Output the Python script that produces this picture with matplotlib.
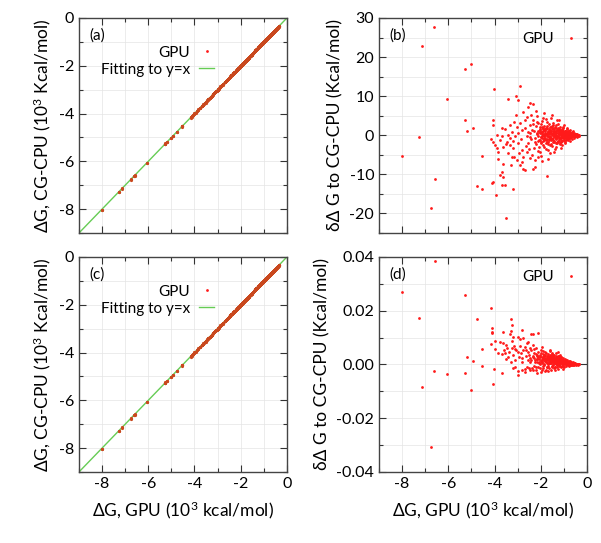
import numpy as np
import matplotlib.pyplot as plt
from matplotlib.ticker import MultipleLocator, FormatStrFormatter

plt.rcParams['font.family'] = ['Lato', 'DejaVu Sans']
plt.rcParams['axes.unicode_minus'] = False
plt.rcParams['mathtext.fontset'] = 'custom'
plt.rcParams['mathtext.rm'] = 'Lato'

# dG on GPU (10^3 kcal/mol) and dG difference to CG-CPU (kcal/mol), panel (b)
dg_b = [-8.02, -7.28, -7.15, -6.63, -6.75, -6.59, -6.07, -5.26, -5.03, -5.26, -5.18, -4.94,
        -4.53, -4.76, -4.53, -4.01, -2.88, -3.07, -2.97, -3.43, -2.46, -2.32, -2.56, -2.75,
        -3.07, -4.05, -4.05, -3.69, -4.17, -4.08, -3.88, -3.83, -3.62, -3.29, -3.14, -3.66,
        -3.65, -3.76, -2.78, -2.68, -2.35, -2.25, -1.74, -4.12, -4.05, -3.69, -3.55, -3.19,
        -3.95, -3.52,
        -3.55, -3.40, -3.26, -3.11, -3.04, -2.90, -2.82, -2.68, -2.61, -2.54, -2.46, -2.39,
        -2.32, -2.25, -2.17, -2.10, -3.47, -3.33, -3.18, -2.97, -2.82, -2.75, -2.61, -2.46,
        -2.39, -2.25, -2.10, -2.03, -1.96, -3.04, -2.90, -3.26, -3.40, -3.62, -3.76, -3.91,
        -3.69, -3.33, -3.98, -3.83,
        -3.50, -3.35, -3.20, -3.00, -2.95, -2.85, -2.70, -2.65, -2.55, -2.50, -2.45, -2.40,
        -2.30, -3.15, -2.80, -2.60, -2.20, -2.00, -1.85, -1.70]
ddg_b = [-5.3, -0.5, 22.9, 27.6, -18.7, -11.3, 9.3, 16.9, 18.2, 3.8, 1.1, 1.8,
         -5.3, -13.0, -13.7, 11.8, 12.6, 10.0, 9.0, 9.2, 8.3, 8.0, 7.3, 6.0,
         5.2, 3.9, 2.6, 1.9, -0.9, -1.6, -3.3, -6.1, -7.3, -7.7, -5.6, -9.3,
         -10.6, -10.2, -8.7, -8.9, -8.7, -8.2, -10.4, -12.1, -11.9, -12.7, -12.7, -13.8,
         -15.3, -21.1,
         1.5, 0.1, 0.9, -0.3, 2.2, 3.1, 1.4, 3.9, -0.3, -2.1, 2.6, 1.4,
         3.9, -1.6, 4.8, 3.1, -1.6, -2.5, -3.3, -2.1, -3.8, -5.5, -4.2, -5.9,
         -5.0, -6.3, -5.5, -4.2, -6.7, -6.3, -7.6, -5.5, -4.6, -3.1, -1.2, 0.1,
         -0.2, -0.8, -2.5, -4.2,
         -2.3, 2.6, -1.5, 0.6, -4.6, -1.0, 1.8, -2.7, 0.8, -3.5, -0.4, 5.1,
         -3.2, 3.5, -6.8, 4.6, 6.2, -5.3, 5.8, -6.0]

# dense cluster of panel (b)
core_b_x = [-2.28, -2.25, -2.22, -2.20, -2.18, -2.15, -2.12, -2.10, -2.08, -2.05, -2.03, -2.00,
            -1.98, -1.97, -1.95, -1.93, -1.92, -1.90, -1.88, -1.87, -1.85, -1.83, -1.82, -1.80,
            -1.78, -1.77, -1.75, -1.74, -1.72, -1.70, -1.69, -1.67, -1.66, -1.65, -1.63, -1.62,
            -1.60, -1.60, -1.58, -1.57, -1.55, -1.54, -1.52, -1.51, -1.50, -1.48, -1.47, -1.45,
            -1.44, -1.42, -1.41, -1.40, -1.38, -1.37, -1.35, -1.34, -1.32, -1.31, -1.30, -1.28,
            -1.27, -1.25, -1.24, -1.22, -1.21, -1.20, -1.18, -1.17, -1.15, -1.14, -1.12, -1.11,
            -1.10, -1.08, -1.07, -1.05, -1.04, -1.02, -1.01, -1.00, -0.98, -0.97, -0.95, -0.94,
            -0.92, -0.91, -0.90, -0.88, -0.87, -0.85, -0.84, -0.82, -0.81, -0.79, -0.78, -0.76,
            -0.75, -0.73, -0.72, -0.70, -0.69, -0.67, -0.66, -0.64, -0.63, -0.61, -0.60, -0.58,
            -0.57, -0.55, -0.54, -0.52, -0.51, -0.49, -0.48, -0.46, -0.45, -0.43, -0.42, -0.40,
            -0.39, -0.37, -0.35, -0.33,
            -2.05, -2.02, -1.99, -1.96, -1.94, -1.91, -1.89, -1.86, -1.84, -1.81, -1.79, -1.76,
            -1.73, -1.71, -1.68, -1.64, -1.61, -1.59, -1.56, -1.53, -1.49, -1.46, -1.43, -1.39,
            -1.36, -1.33, -1.29, -1.26, -1.23, -1.19, -1.16, -1.13, -1.09, -1.06, -1.03, -0.99,
            -0.96, -0.93, -0.89, -0.86, -0.83, -0.80, -0.77, -0.74, -0.71, -0.68, -0.65, -0.62,
            -0.59, -0.56, -0.53, -0.50, -0.47, -0.44, -0.41, -0.38,
            -1.95, -1.85, -1.72, -1.58, -1.45, -1.35, -1.25, -1.15, -1.05, -0.95, -0.85, -1.55,
            -1.68, -1.42, -1.30, -1.90, -2.10, -1.12, -2.35, -2.40, -2.45,
            -2.15, -2.08, -2.01, -1.97, -1.93, -1.89, -1.84, -1.80, -1.77, -1.73, -1.70, -1.66,
            -1.63, -1.59, -1.56, -1.53, -1.50, -1.47, -1.44, -1.41, -1.38, -1.35, -1.32, -1.29,
            -1.26, -1.23, -1.20, -1.17, -1.14, -1.11, -1.08, -1.05, -1.02, -0.99, -0.96, -0.93,
            -0.90, -0.87, -0.84, -0.81, -0.78, -0.75, -0.72, -0.69, -0.66, -0.63, -0.60, -0.57,
            -0.54, -0.51,
            -2.12, -2.04, -1.98, -1.91, -1.86, -1.82, -1.78, -1.74, -1.69, -1.64, -1.60, -1.57,
            -1.52, -1.49, -1.46, -1.43, -1.39, -1.36, -1.33, -1.30, -1.27, -1.24, -1.21, -1.18,
            -1.15, -1.12, -1.09, -1.06, -1.03, -1.00, -0.97, -0.94, -0.91, -0.88, -0.85, -0.82,
            -0.79, -0.76, -0.73, -0.70]
core_b_y = [1.2, -0.8, 2.4, -2.2, 0.3, 3.5, -1.5, 1.0, -3.0, 0.5, 2.0, -0.4,
            -1.9, 3.0, 0.8, -0.2, 1.6, -2.6, 0.4, 2.4, -1.1, 0.0, 1.1, -0.6,
            4.2, -3.5, 0.6, -1.6, 1.9, -0.3, 0.9, -2.2, 2.8, 0.2, -0.9, 1.4,
            -4.6, 0.5, -0.1, 2.1, -1.3, 0.7, 5.3, -2.7, 0.0, 1.2, -0.6, 3.2,
            -1.8, 0.3, 1.7, -0.2, -3.4, 0.9, 2.5, -1.0, 0.1, 1.4, -0.5, -2.1,
            0.6, 1.9, -0.3, 3.8, -1.4, 0.2, 1.0, -0.7, 2.2, -1.7, 0.4, -0.1,
            1.3, -2.6, 0.7, -0.4, 1.8, 0.0, -1.1, 0.9, 2.6, -0.6, 0.3, -1.9,
            1.2, -0.2, 0.6, -0.9, 1.6, 0.1, -1.3, 0.8, -0.4, 1.1, 0.2, -0.7,
            0.5, -1.5, 1.4, -0.1, 0.7, -0.5, 0.9, 0.0, -0.9, 0.4, 1.0, -0.3,
            0.3, -0.6, 0.6, 0.1, -0.3, 0.4, -0.1, 0.2, -0.4, 0.3, 0.0, -0.2,
            0.1, 0.0, -0.1, 0.05,
            1.7, -1.2, 0.9, -0.6, 2.2, 0.1, -1.4, 1.3, -0.3, 0.7, -2.0, 1.8,
            0.2, -0.9, 1.1, -0.4, 2.0, 0.8, -0.7, 1.5, -1.2, 0.5, -0.1, 1.0,
            -0.8, 0.6, 1.3, -0.5, 0.3, -1.0, 0.9, 0.2, -0.5, 1.0, -0.8, 0.4,
            -0.2, 0.8, 0.0, -0.6, 0.5, -0.2, 0.6, 0.1, -0.4, 0.3, -0.2, 0.5,
            0.1, -0.2, 0.3, -0.1, 0.1, -0.1, 0.1, 0.0,
            3.6, -3.1, 3.3, -2.4, 2.7, -2.9, 2.9, -2.2, 2.1, -1.6, 1.9, 4.4,
            -3.8, -4.2, 4.0, 4.5, -4.0, -3.2, 2.8, -1.0, 0.6,
            0.6, -1.1, 1.4, -0.5, 0.2, 1.0, -0.9, 0.4, 1.5, -0.2, 0.6, -1.2,
            0.9, -0.4, 1.2, 0.3, -0.9, 0.7, -0.3, 1.1, 0.0, -0.6, 0.8, -0.2,
            0.5, 1.1, -0.4, 0.3, -0.7, 0.6, 0.1, -0.3, 0.7, -0.5, 0.2, 0.5,
            -0.3, 0.3, -0.1, 0.4, -0.4, 0.2, 0.5, -0.2, 0.1, 0.3, -0.3, 0.2,
            0.0, 0.1,
            -0.3, 0.9, -1.6, 1.9, -0.7, 1.6, -1.3, 2.3, -1.8, 1.7, -0.6, -2.3,
            2.3, 1.8, -1.6, -1.4, 2.0, -2.0, 1.9, -1.6, 1.4, -1.5, 1.6, -1.9,
            1.3, -1.2, 1.7, -1.5, 1.2, -1.3, 1.0, 1.2, -1.1, 0.9, -0.8, 1.0,
            -0.7, 1.0, -0.8, 0.7]

# panel (d)
dg_d = [-6.59, -8.02, -5.26, -7.28, -4.76, -4.53, -5.18, -4.94, -4.53, -6.63, -6.07, -5.26,
        -7.15, -5.03, -6.75,
        -4.15, -3.29, -3.26, -4.09, -4.09, -3.65, -2.82, -2.10, -2.32, -2.42, -3.33, -3.18,
        -2.97, -2.75, -4.00, -3.76, -3.62, -3.52, -3.98, -4.15, -3.26, -3.11, -3.83, -3.69,
        -3.55, -3.40, -4.01, -3.69, -3.00, -4.05, -2.82, -2.68, -3.11, -2.46, -1.96, -4.12,
        -3.30,
        -3.45, -3.38, -3.30, -3.20, -3.15, -3.10, -3.05, -3.00, -2.95, -2.90, -2.85, -2.80,
        -2.75, -2.70, -2.65, -2.60, -2.55, -2.50, -2.45, -3.25, -2.90, -3.60, -3.50, -2.70,
        -2.55, -2.35]
ddg_d = [0.0384, 0.0270, 0.0257, 0.0174, 0.0168, 0.0057, 0.0028, 0.0013, -0.0006, -0.0024,
         -0.0035, -0.0033, -0.0083, -0.0094, -0.0306,
         0.0211, 0.0169, 0.0147, 0.0134, 0.0116, 0.0122, 0.0128, 0.0116, 0.0112, 0.0112,
         0.0112, 0.0104, 0.0104, 0.0097, 0.0087, 0.0085, 0.0079, 0.0073, 0.0057, 0.0076,
         0.0060, 0.0059, 0.0042, 0.0039, 0.0044, 0.0029, -0.0018, -0.0033, -0.0039, -0.0074,
         -0.0020, -0.0018, -0.0008, -0.0020, -0.0020, 0.0120, 0.0125,
         0.0062, 0.0048, 0.0008, 0.0035, 0.0068, 0.0015, 0.0052, -0.0025, 0.0028, 0.0070,
         0.0041, 0.0010, 0.0055, -0.0028, 0.0030, 0.0078, 0.0045, -0.0012, 0.0060, 0.0088,
         0.0095, 0.0055, 0.0020, 0.0065, 0.0082, 0.0072]

# dense cluster of panel (d)
core_d_x = [-2.50, -2.45, -2.40, -2.38, -2.35, -2.30, -2.28, -2.25, -2.22, -2.20, -2.18, -2.15,
            -2.12, -2.10, -2.08, -2.05, -2.03, -2.00, -1.98, -1.97, -1.95, -1.93, -1.92, -1.90,
            -1.88, -1.87, -1.85, -1.83, -1.82, -1.80, -1.78, -1.77, -1.75, -1.74, -1.72, -1.70,
            -1.69, -1.67, -1.66, -1.65, -1.63, -1.62, -1.60, -1.58, -1.57, -1.55, -1.54, -1.52,
            -1.51, -1.50, -1.48, -1.47, -1.45, -1.44, -1.42, -1.41, -1.40, -1.38, -1.37, -1.35,
            -1.34, -1.32, -1.31, -1.30, -1.28, -1.27, -1.25, -1.24, -1.22, -1.21, -1.20, -1.18,
            -1.17, -1.15, -1.14, -1.12, -1.11, -1.10, -1.08, -1.07, -1.05, -1.04, -1.02, -1.01,
            -1.00, -0.98, -0.97, -0.95, -0.94, -0.92, -0.91, -0.90, -0.88, -0.87, -0.85, -0.84,
            -0.82, -0.81, -0.79, -0.78, -0.76, -0.75, -0.73, -0.72, -0.70, -0.69, -0.67, -0.66,
            -0.64, -0.63, -0.61, -0.60, -0.58, -0.57, -0.55, -0.54, -0.52, -0.51, -0.49, -0.48,
            -0.46, -0.45, -0.43, -0.42, -0.40, -0.38, -0.36, -0.34,
            -2.40, -2.32, -2.26, -2.20, -2.14, -2.07, -2.01, -1.96, -1.91, -1.86, -1.81, -1.76,
            -1.71, -1.68, -1.64, -1.59, -1.56, -1.53, -1.49, -1.46, -1.43, -1.39, -1.36, -1.33,
            -1.29, -1.26, -1.23, -1.19, -1.16, -1.13, -1.09, -1.06, -1.03, -0.99, -0.96, -0.93,
            -0.89, -0.86, -0.83, -0.80, -0.77, -0.74, -0.71, -0.68, -0.65, -0.62, -0.59, -0.56,
            -0.53, -0.50, -0.47, -0.44, -0.41, -0.37,
            -2.30, -2.15, -1.95, -1.80, -1.60, -1.40, -1.25, -1.05, -2.45, -2.55, -2.60, -2.80,
            -3.00, -3.20, -2.65, -2.35, -1.90, -1.70, -1.50, -1.15,
            -2.15, -2.08, -2.01, -1.97, -1.93, -1.89, -1.84, -1.80, -1.77, -1.73, -1.70, -1.66,
            -1.63, -1.59, -1.56, -1.53, -1.50, -1.47, -1.44, -1.41, -1.38, -1.35, -1.32, -1.29,
            -1.26, -1.23, -1.20, -1.17, -1.14, -1.11, -1.08, -1.05, -1.02, -0.99, -0.96, -0.93,
            -0.90, -0.87, -0.84, -0.81, -0.78, -0.75, -0.72, -0.69, -0.66, -0.63, -0.60, -0.57,
            -0.54, -0.51,
            -2.30, -2.22, -2.17, -2.10, -2.04, -1.98, -1.91, -1.86, -1.82, -1.78, -1.74, -1.69,
            -1.64, -1.60, -1.57, -1.52, -1.49, -1.46, -1.43, -1.39, -1.36, -1.33, -1.30, -1.27,
            -1.24, -1.21, -1.18, -1.15, -1.12, -1.09]
core_d_y = [0.0035, 0.0008, 0.0052, -0.0012, 0.0026, 0.0041, -0.0004, 0.0018, 0.0061, -0.0022,
            0.0030, 0.0009, 0.0047, -0.0010, 0.0021, 0.0036, 0.0002, 0.0014, -0.0027, 0.0055,
            0.0028, 0.0006, 0.0040, -0.0015, 0.0019, 0.0033, -0.0003, 0.0012, 0.0046, 0.0024,
            -0.0019, 0.0008, 0.0031, 0.0015, -0.0008, 0.0038, 0.0003, 0.0022, -0.0013, 0.0011,
            0.0027, 0.0049, 0.0005, 0.0017, -0.0021, 0.0032, 0.0009, 0.0020, -0.0006, 0.0013,
            0.0036, 0.0002, 0.0024, -0.0014, 0.0010, 0.0029, 0.0004, 0.0016, -0.0009, 0.0021,
            0.0041, 0.0007, -0.0003, 0.0014, 0.0026, -0.0016, 0.0009, 0.0019, 0.0001, 0.0032,
            0.0012, -0.0007, 0.0022, 0.0006, 0.0015, -0.0011, 0.0027, 0.0009, 0.0003, 0.0018,
            -0.0005, 0.0012, 0.0023, 0.0004, 0.0010, -0.0009, 0.0016, 0.0007, 0.0020, 0.0002,
            0.0011, -0.0004, 0.0014, 0.0006, 0.0017, -0.0002, 0.0009, 0.0003, 0.0012, -0.0006,
            0.0007, 0.0014, 0.0001, 0.0008, -0.0003, 0.0010, 0.0004, -0.0001, 0.0007, 0.0002,
            0.0009, -0.0002, 0.0005, 0.0001, 0.0006, -0.0002, 0.0003, 0.0005, 0.0000, 0.0003,
            -0.0001, 0.0002, 0.0003, 0.0000, 0.0001, -0.0001, 0.0001, 0.0000,
            0.0015, 0.0030, 0.0008, 0.0040, 0.0022, 0.0004, 0.0031, 0.0013, 0.0025, 0.0002,
            0.0036, 0.0018, 0.0029, -0.0004, 0.0015, 0.0026, 0.0006, 0.0039, 0.0019, -0.0003,
            0.0024, 0.0012, 0.0033, 0.0000, 0.0018, 0.0008, 0.0025, -0.0002, 0.0013, 0.0021,
            0.0005, 0.0016, -0.0001, 0.0013, 0.0003, 0.0011, 0.0018, 0.0001, 0.0010, 0.0005,
            0.0011, -0.0001, 0.0006, 0.0009, 0.0002, 0.0006, 0.0003, 0.0004, 0.0000, 0.0002,
            0.0001, 0.0002, 0.0000, 0.0001,
            0.0058, -0.0030, 0.0065, -0.0026, 0.0052, -0.0022, 0.0045, -0.0016, 0.0025, 0.0015,
            -0.0008, 0.0025, 0.0045, -0.0012, 0.0052, -0.0020, 0.0050, -0.0024, 0.0044, 0.0036,
            0.0020, 0.0010, 0.0027, 0.0017, 0.0008, 0.0022, 0.0030, 0.0012, 0.0019, 0.0004,
            0.0025, 0.0014, 0.0020, 0.0007, 0.0023, 0.0012, 0.0027, 0.0009, 0.0017, 0.0022,
            0.0006, 0.0014, 0.0019, 0.0004, 0.0016, 0.0011, 0.0020, 0.0008, 0.0010, 0.0016,
            0.0006, 0.0011, 0.0015, 0.0004, 0.0009, 0.0013, 0.0007, 0.0010, 0.0004, 0.0008,
            0.0003, 0.0009, 0.0005, 0.0003, 0.0007, 0.0004, 0.0005, 0.0002, 0.0004, 0.0002,
            0.0024, -0.0008, 0.0034, 0.0028, -0.0012, 0.0044, -0.0006, 0.0035, 0.0016, 0.0041,
            -0.0010, 0.0031, 0.0006, 0.0036, 0.0021, -0.0011, 0.0030, 0.0016, 0.0034, -0.0008,
            0.0025, 0.0013, -0.0010, 0.0030, 0.0004, -0.0007, 0.0026, 0.0011, 0.0028, -0.0006]

fit_x = [-9.0, 0.0]
red = '#ff1a1a'
brown = '#c9481e'
green = '#66cc55'
ms = 2.0


def style(ax, ymin, ymax, ymaj, ymin_step, fmt):
    ax.set_xlim(-9, 0)
    ax.set_ylim(ymin, ymax)
    ax.xaxis.set_major_locator(MultipleLocator(2))
    ax.xaxis.set_minor_locator(MultipleLocator(1))
    ax.yaxis.set_major_locator(MultipleLocator(ymaj))
    ax.yaxis.set_minor_locator(MultipleLocator(ymin_step))
    ax.yaxis.set_major_formatter(FormatStrFormatter(fmt))
    ax.tick_params(which='both', direction='in', top=True, right=True,
                   colors='#333333', labelcolor='black', labelsize=11.5)
    ax.tick_params(which='major', length=5, width=0.8)
    ax.tick_params(which='minor', length=3, width=0.8)
    ax.grid(which='both', color='#e4e4e4', linewidth=0.5)
    ax.set_axisbelow(True)
    for s in ax.spines.values():
        s.set_color('#444444')
        s.set_linewidth(1.0)


fig = plt.figure(figsize=(6.01, 5.43), dpi=100)
w, h = 0.346, 0.396
ax_a = fig.add_axes([0.1314, 0.5709, w, h])
ax_b = fig.add_axes([0.6306, 0.5709, w, h])
ax_c = fig.add_axes([0.1314, 0.1308, w, h])
ax_d = fig.add_axes([0.6306, 0.1308, w, h])

gpu_b = np.array(dg_b + core_b_x)
diff_b = np.array(ddg_b + core_b_y)
gpu_d = np.array(dg_d + core_d_x)
diff_d = np.array(ddg_d + core_d_y)

for ax, lab in [(ax_a, '(a)'), (ax_c, '(c)')]:
    ax.plot(fit_x, fit_x, color=green, lw=1.0, label='Fitting to y=x', zorder=2)
    ax.plot(gpu_b, gpu_b + diff_b / 1000.0, 'o', ms=ms + 0.3, color=brown,
            mec='none', zorder=3)
    ax.plot(gpu_d, gpu_d + diff_d / 1000.0, 'o', ms=ms + 0.3, color=brown,
            mec='none', zorder=3)
    gpu_key, = ax.plot([], [], 'o', ms=ms, color=red, mec='none', label='GPU')
    style(ax, -9, 0, 2, 1, '%d')
    ax.set_ylabel('ΔG, CG-CPU ($\\mathregular{10^3}$ Kcal/mol)', fontsize=12.5, labelpad=4)
    ax.text(0.05, 0.92, lab, transform=ax.transAxes, fontsize=11, va='center')
    handles, labels = ax.get_legend_handles_labels()
    ax.legend(handles[::-1], labels[::-1], loc='upper right', bbox_to_anchor=(0.68, 0.9),
              frameon=False, markerfirst=False, handlelength=1.0, fontsize=11,
              labelspacing=0.2, handletextpad=0.6, borderaxespad=0)

ax_b.plot(gpu_b, diff_b, 'o', ms=ms, color=red, mec='none', label='GPU')
style(ax_b, -25, 30, 10, 5, '%d')
ax_b.set_ylabel('δΔ G to CG-CPU (Kcal/mol)', fontsize=12.5, labelpad=4)
ax_b.text(0.05, 0.92, '(b)', transform=ax_b.transAxes, fontsize=11, va='center')
ax_b.legend(loc='center right', bbox_to_anchor=(0.96, 0.9), frameon=False,
            markerfirst=False, handlelength=1.0, fontsize=11, handletextpad=0.6,
            borderaxespad=0, borderpad=0)

ax_d.plot(gpu_d, diff_d, 'o', ms=ms, color=red, mec='none', label='GPU')
style(ax_d, -0.04, 0.04, 0.02, 0.01, '%.2f')
ax_d.set_ylabel('δΔ G to CG-CPU (Kcal/mol)', fontsize=12.5, labelpad=4)
ax_d.text(0.05, 0.92, '(d)', transform=ax_d.transAxes, fontsize=11, va='center')
ax_d.legend(loc='center right', bbox_to_anchor=(0.96, 0.905), frameon=False,
            markerfirst=False, handlelength=1.0, fontsize=11, handletextpad=0.6,
            borderaxespad=0, borderpad=0)

for ax in (ax_a, ax_b):
    ax.tick_params(labelbottom=False)
for ax in (ax_c, ax_d):
    ax.set_xlabel('ΔG, GPU ($\\mathregular{10^3}$ kcal/mol)', fontsize=12.5, labelpad=6)

fig.savefig('out.png', dpi=100)
